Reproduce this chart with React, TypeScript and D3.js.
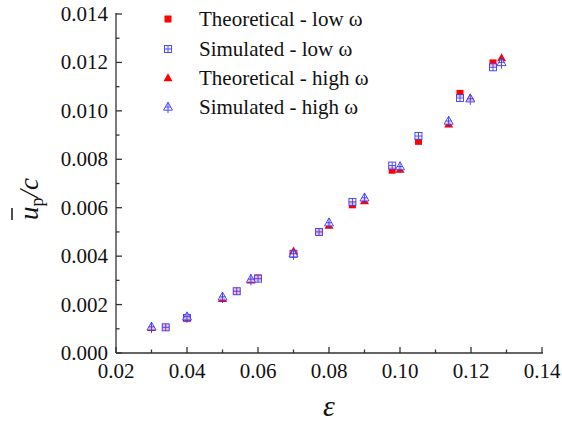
import React, { useEffect, useRef } from "react";
import * as d3 from "d3";

const lowX = [0.034, 0.040, 0.054, 0.060, 0.070, 0.0772, 0.0866, 0.0978, 0.1052, 0.1169, 0.1262];
const theoLowY = [0.00106, 0.00145, 0.00255, 0.0031, 0.0041, 0.0050, 0.00612, 0.00755, 0.00874, 0.01072, 0.01198];
const simLowY = [0.00106, 0.00145, 0.00255, 0.00307, 0.0041, 0.0050, 0.00624, 0.00774, 0.00896, 0.01053, 0.01180];
const highX = [0.030, 0.040, 0.050, 0.058, 0.070, 0.080, 0.090, 0.100, 0.1137, 0.1198, 0.1286];
const theoHighY = [0.00104, 0.00146, 0.00224, 0.00300, 0.0042, 0.00526, 0.00628, 0.00758, 0.00945, 0.01052, 0.01218];
const simHighY = [0.00108, 0.00150, 0.00232, 0.00305, 0.0041, 0.00538, 0.00641, 0.0077, 0.00958, 0.0105, 0.0120];

const xTicks = [0.02, 0.04, 0.06, 0.08, 0.1, 0.12, 0.14];
const yTicks = [0, 0.002, 0.004, 0.006, 0.008, 0.01, 0.012, 0.014];
const legendLabels = ["Theoretical - low ω", "Simulated - low ω", "Theoretical - high ω", "Simulated - high ω"];

const W = 562, H = 423;
const PL = 116, PR = 542, PT = 14, PB = 353;
const RED = "#ff0000";
const BLUE = "#3a3aff";
const SERIF = "Liberation Serif";

export default function App() {
  const ref = useRef<SVGSVGElement | null>(null);

  useEffect(() => {
    document.body.style.margin = "0";
    const svg = d3.select(ref.current);
    svg.selectAll("*").remove();
    const x = d3.scaleLinear().domain([0.02, 0.14]).range([PL, PR]);
    const y = d3.scaleLinear().domain([0, 0.014]).range([PB, PT]);

    svg.append("rect").attr("width", W).attr("height", H).attr("fill", "#fff");

    // axes
    const ax = svg.append("g").attr("stroke", "#333").attr("stroke-width", 1.3).attr("fill", "none");
    ax.append("line").attr("x1", PL).attr("x2", PL).attr("y1", PT - 1).attr("y2", PB);
    ax.append("line").attr("x1", PL).attr("x2", PR + 1).attr("y1", PB).attr("y2", PB);
    d3.range(0, 15).forEach((i) => {
      const v = i * 0.001;
      ax.append("line").attr("x1", PL).attr("x2", PL + (i % 2 === 0 ? 6 : 3.5)).attr("y1", y(v)).attr("y2", y(v));
    });
    d3.range(0, 13).forEach((i) => {
      const v = 0.02 + i * 0.01;
      ax.append("line").attr("x1", x(v)).attr("x2", x(v)).attr("y1", PB).attr("y2", PB - (i % 2 === 0 ? 6 : 3.5));
    });

    const text = (sel: any) => sel.attr("font-family", SERIF).style("font-family", SERIF).attr("fill", "#111");

    yTicks.forEach((v) => {
      svg.append("text").call(text).attr("x", PL - 8).attr("y", y(v) + 7).attr("font-size", 21)
        .attr("text-anchor", "end").text(d3.format(".3f")(v));
    });
    xTicks.forEach((v) => {
      svg.append("text").call(text).attr("x", x(v)).attr("y", PB + 25).attr("font-size", 21)
        .attr("text-anchor", "middle").text(d3.format(".2f")(v));
    });

    svg.append("text").call(text).attr("x", 329).attr("y", 416).attr("font-size", 30)
      .attr("font-style", "italic").attr("text-anchor", "middle").text("ε");

    const yl = svg.append("g").attr("transform", "translate(38,195) rotate(-90)");
    yl.append("line").attr("x1", -25).attr("x2", -13).attr("y1", -26).attr("y2", -26)
      .attr("stroke", "#222").attr("stroke-width", 1.6);
    const yt = yl.append("text").call(text).attr("x", -25).attr("y", 0).attr("font-size", 27);
    yt.append("tspan").attr("font-style", "italic").text("u");
    yt.append("tspan").attr("font-size", 18).attr("dy", 5).text("p");
    yt.append("tspan").attr("font-style", "italic").attr("dy", -5).text("/c");

    const redSquare = (g: any, cx: number, cy: number) => {
      const s = 7;
      g.append("rect").attr("x", cx - s / 2).attr("y", cy - s / 2).attr("width", s).attr("height", s).attr("fill", RED);
    };
    const blueSquare = (g: any, cx: number, cy: number) => {
      const s = 7;
      const m = g.append("g").attr("stroke", BLUE).attr("stroke-width", 0.9).attr("fill", "rgba(250,250,255,0.75)");
      m.append("rect").attr("x", cx - s / 2).attr("y", cy - s / 2).attr("width", s).attr("height", s);
      m.append("line").attr("x1", cx).attr("x2", cx).attr("y1", cy - s / 2).attr("y2", cy + s / 2);
      m.append("line").attr("x1", cx - s / 2).attr("x2", cx + s / 2).attr("y1", cy).attr("y2", cy);
    };
    const triPts = (cx: number, cy: number) => {
      const h = 8, w = 9;
      return `${cx},${cy - h * 0.6} ${cx + w / 2},${cy + h * 0.4} ${cx - w / 2},${cy + h * 0.4}`;
    };
    const redTri = (g: any, cx: number, cy: number) => {
      g.append("polygon").attr("points", triPts(cx, cy)).attr("fill", RED);
    };
    const blueTri = (g: any, cx: number, cy: number) => {
      const h = 8, w = 9;
      const m = g.append("g").attr("stroke", BLUE).attr("stroke-width", 0.9).attr("fill", "rgba(250,250,255,0.75)");
      m.append("polygon").attr("points", triPts(cx, cy));
      m.append("line").attr("x1", cx).attr("x2", cx).attr("y1", cy - h * 0.6).attr("y2", cy + h * 0.4 + 3);
      m.append("line").attr("x1", cx - w / 2 + 1.5).attr("x2", cx + w / 2 - 1.5).attr("y1", cy).attr("y2", cy);
    };

    const data = svg.append("g");
    lowX.forEach((v, i) => redSquare(data, x(v), y(theoLowY[i])));
    lowX.forEach((v, i) => blueSquare(data, x(v), y(simLowY[i])));
    highX.forEach((v, i) => redTri(data, x(v), y(theoHighY[i])));
    highX.forEach((v, i) => blueTri(data, x(v), y(simHighY[i])));

    const legendY = [19, 49, 78, 107];
    redSquare(svg, 168, legendY[0]);
    blueSquare(svg, 168, legendY[1]);
    redTri(svg, 168, legendY[2]);
    blueTri(svg, 168, legendY[3]);
    legendLabels.forEach((t, i) => {
      svg.append("text").call(text).attr("x", 199).attr("y", legendY[i] + 7).attr("font-size", 21).text(t);
    });
  }, []);

  return (
    <svg ref={ref} width={W} height={H} style={{ position: "absolute", left: 0, top: 0, display: "block" }} />
  );
}
